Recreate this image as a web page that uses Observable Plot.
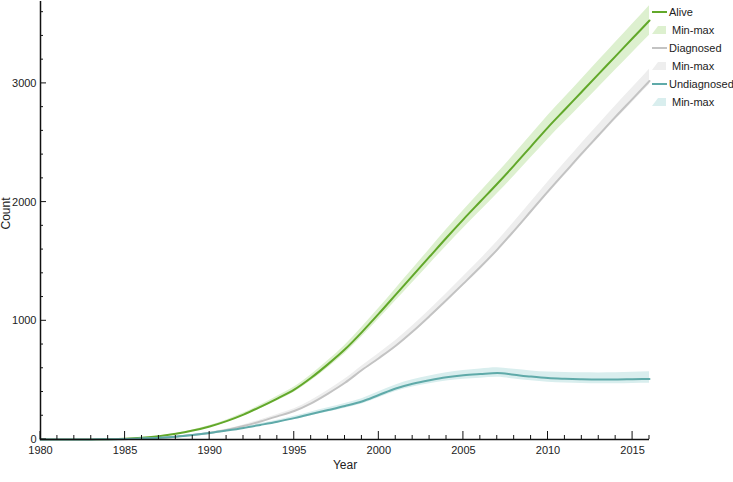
<!DOCTYPE html>
<html><head><meta charset="utf-8">
<script src="https://cdn.jsdelivr.net/npm/d3@7"></script>
<script src="https://cdn.jsdelivr.net/npm/@observablehq/plot@0.6"></script>
<style>
body{margin:0;background:#fff;overflow:hidden;}
#wrap{position:relative;width:733px;height:482px;font-family:"Liberation Sans",Arial,sans-serif;}
#legend{position:absolute;left:652px;top:0;width:81px;height:120px;font-size:11px;color:#222;}
.row{position:absolute;left:0;height:18px;display:flex;align-items:center;white-space:nowrap;}
.row svg{margin-right:2px;flex:none;}
</style></head><body><div id="wrap"><div id="legend"></div></div>
<script>
const years = [1980,1981,1982,1983,1984,1985,1986,1987,1988,1989,1990,1991,1992,1993,1994,1995,1996,1997,1998,1999,2000,2001,2002,2003,2004,2005,2006,2007,2008,2009,2010,2011,2012,2013,2014,2015,2016];

const alive    = [0,0,0,1,3,7,15,28,48,75,110,155,210,275,345,420,520,635,760,905,1060,1220,1380,1540,1700,1855,2005,2155,2310,2470,2630,2780,2930,3080,3230,3380,3530];
const aliveMin = [0,0,0,1,3,6,14,26,45,70,103,145,197,259,326,398,494,605,725,865,1015,1169,1323,1477,1631,1780,1925,2070,2220,2375,2530,2676,2822,2968,3114,3260,3405];
const aliveMax = [0,0,0,1,3,8,16,30,51,80,117,165,223,291,364,442,546,665,795,945,1105,1271,1437,1603,1769,1930,2085,2240,2400,2565,2730,2884,3038,3192,3346,3500,3655];

const diagnosed    = [0,0,0,0,1,3,6,13,24,37,55,80,113,152,195,240,305,387,478,585,685,790,910,1040,1175,1313,1453,1600,1760,1925,2090,2250,2410,2565,2720,2870,3020];
const diagnosedMin = [0,0,0,0,1,3,5,12,22,35,52,76,108,146,188,232,296,377,467,573,672,776,895,1024,1158,1295,1434,1580,1739,1903,2067,2226,2385,2539,2693,2842,2990];
const diagnosedMax = [0,0,0,0,1,4,7,15,27,41,61,88,123,165,211,259,328,414,509,620,725,834,958,1092,1231,1373,1517,1668,1832,2001,2170,2333,2496,2654,2812,2966,3120];

const undiagnosed    = [0,0,0,1,2,4,9,15,24,38,55,75,97,123,150,180,215,248,282,320,375,430,470,500,525,542,552,560,545,530,518,512,508,506,506,508,510];
const undiagnosedMin = [0,0,0,1,2,3,8,13,21,34,50,69,90,115,140,168,201,232,264,300,352,404,442,470,493,508,517,524,509,494,482,476,472,470,470,472,474];
const undiagnosedMax = [0,0,0,1,2,5,10,17,27,42,60,82,106,134,163,195,232,267,303,344,402,460,503,536,563,582,594,604,591,578,568,564,562,561,562,566,570];

const seriesNames = ["Alive","Diagnosed","Undiagnosed"];
const xMajorTicks = [1980,1985,1990,1995,2000,2005,2010,2015];
const xMinorTicks = d3.range(1980, 2017);
const yMajorTicks = [0,1000,2000,3000];
const yMinorTicks = d3.range(0, 3700, 200);

const lineColors = {Alive:"#62a82a", Diagnosed:"#c3c3c3", Undiagnosed:"#5faaa9"};
const bandColors = {Alive:"#ddf0cf", Diagnosed:"#eeeeee", Undiagnosed:"#d9eeee"};

const src = {
  Alive: [alive, aliveMin, aliveMax],
  Diagnosed: [diagnosed, diagnosedMin, diagnosedMax],
  Undiagnosed: [undiagnosed, undiagnosedMin, undiagnosedMax]
};
const rows = seriesNames.flatMap(s => years.map((yr,i) => ({series:s, year:yr, v:src[s][0][i], lo:src[s][1][i], hi:src[s][2][i]})));

const bands = seriesNames.map(s => Plot.areaY(rows.filter(d=>d.series===s), {x:"year", y1:"lo", y2:"hi", fill:bandColors[s], curve:"monotone-x"}));
const lines = seriesNames.map(s => Plot.line(rows.filter(d=>d.series===s), {x:"year", y:"v", stroke:lineColors[s], strokeWidth:2, curve:"monotone-x"}));

// inward tick marks drawn through the plot's own scales
function innerTicks(index, scales) {
  const g = d3.create("svg:g").attr("stroke", "#111").attr("stroke-width", 1).attr("fill", "none");
  const y0 = scales.y(0), x0 = scales.x(1980);
  for (const t of xMinorTicks) {
    const len = xMajorTicks.includes(t) ? 8 : 4;
    g.append("line").attr("x1", scales.x(t)).attr("x2", scales.x(t)).attr("y1", y0).attr("y2", y0 - len);
  }
  for (const t of yMinorTicks) {
    const len = yMajorTicks.includes(t) ? 6 : 3;
    g.append("line").attr("y1", scales.y(t)).attr("y2", scales.y(t)).attr("x1", x0).attr("x2", x0 + len);
  }
  return g.node();
}

const chart = Plot.plot({
  width: 733, height: 482,
  marginLeft: 40, marginRight: 84, marginTop: 1, marginBottom: 43,
  style: {fontFamily:'"Liberation Sans",Arial,sans-serif', fontSize:"11px", color:"#222", background:"white"},
  x: {domain:[1980,2016]},
  y: {domain:[0,3690]},
  marks: [
    ...bands,
    ...lines,
    Plot.axisX({ticks: xMajorTicks, tickSize: 0, tickPadding: 7, tickFormat: "d", label: null}),
    Plot.axisY({ticks: yMajorTicks, tickSize: 0, tickPadding: 4, tickFormat: "d", label: null}),
    innerTicks,
    Plot.ruleX([1980], {stroke:"#111", strokeWidth:1.5}),
    Plot.ruleY([0], {stroke:"#111", strokeWidth:1.5}),
    Plot.text(["Year"], {frameAnchor:"bottom", dy:29, text: d=>d, fontSize:12, fill:"#222"}),
    Plot.text(["Count"], {frameAnchor:"left", dx:-34, dy:9, rotate:-90, text: d=>d, fontSize:12, fill:"#222"})
  ]
});
document.getElementById("wrap").prepend(chart);

// legend
const legendItems = [];
seriesNames.forEach(s => {
  legendItems.push({label:s, kind:"line", color:lineColors[s]});
  legendItems.push({label:"Min-max", kind:"band", color:bandColors[s]});
});
const legend = document.getElementById("legend");
legendItems.forEach((it, i) => {
  const row = document.createElement("div");
  row.className = "row";
  row.style.top = (3 + i*18) + "px";
  const sw = it.kind === "line"
    ? `<svg width="15" height="10"><line x1="0" y1="5" x2="15" y2="5" stroke="${it.color}" stroke-width="2"/></svg>`
    : `<svg width="18" height="10"><polygon points="0,9 6,1 14,1 14,9" fill="${it.color}"/></svg>`;
  row.innerHTML = sw + `<span>${it.label}</span>`;
  legend.appendChild(row);
});
</script>
</body></html>
